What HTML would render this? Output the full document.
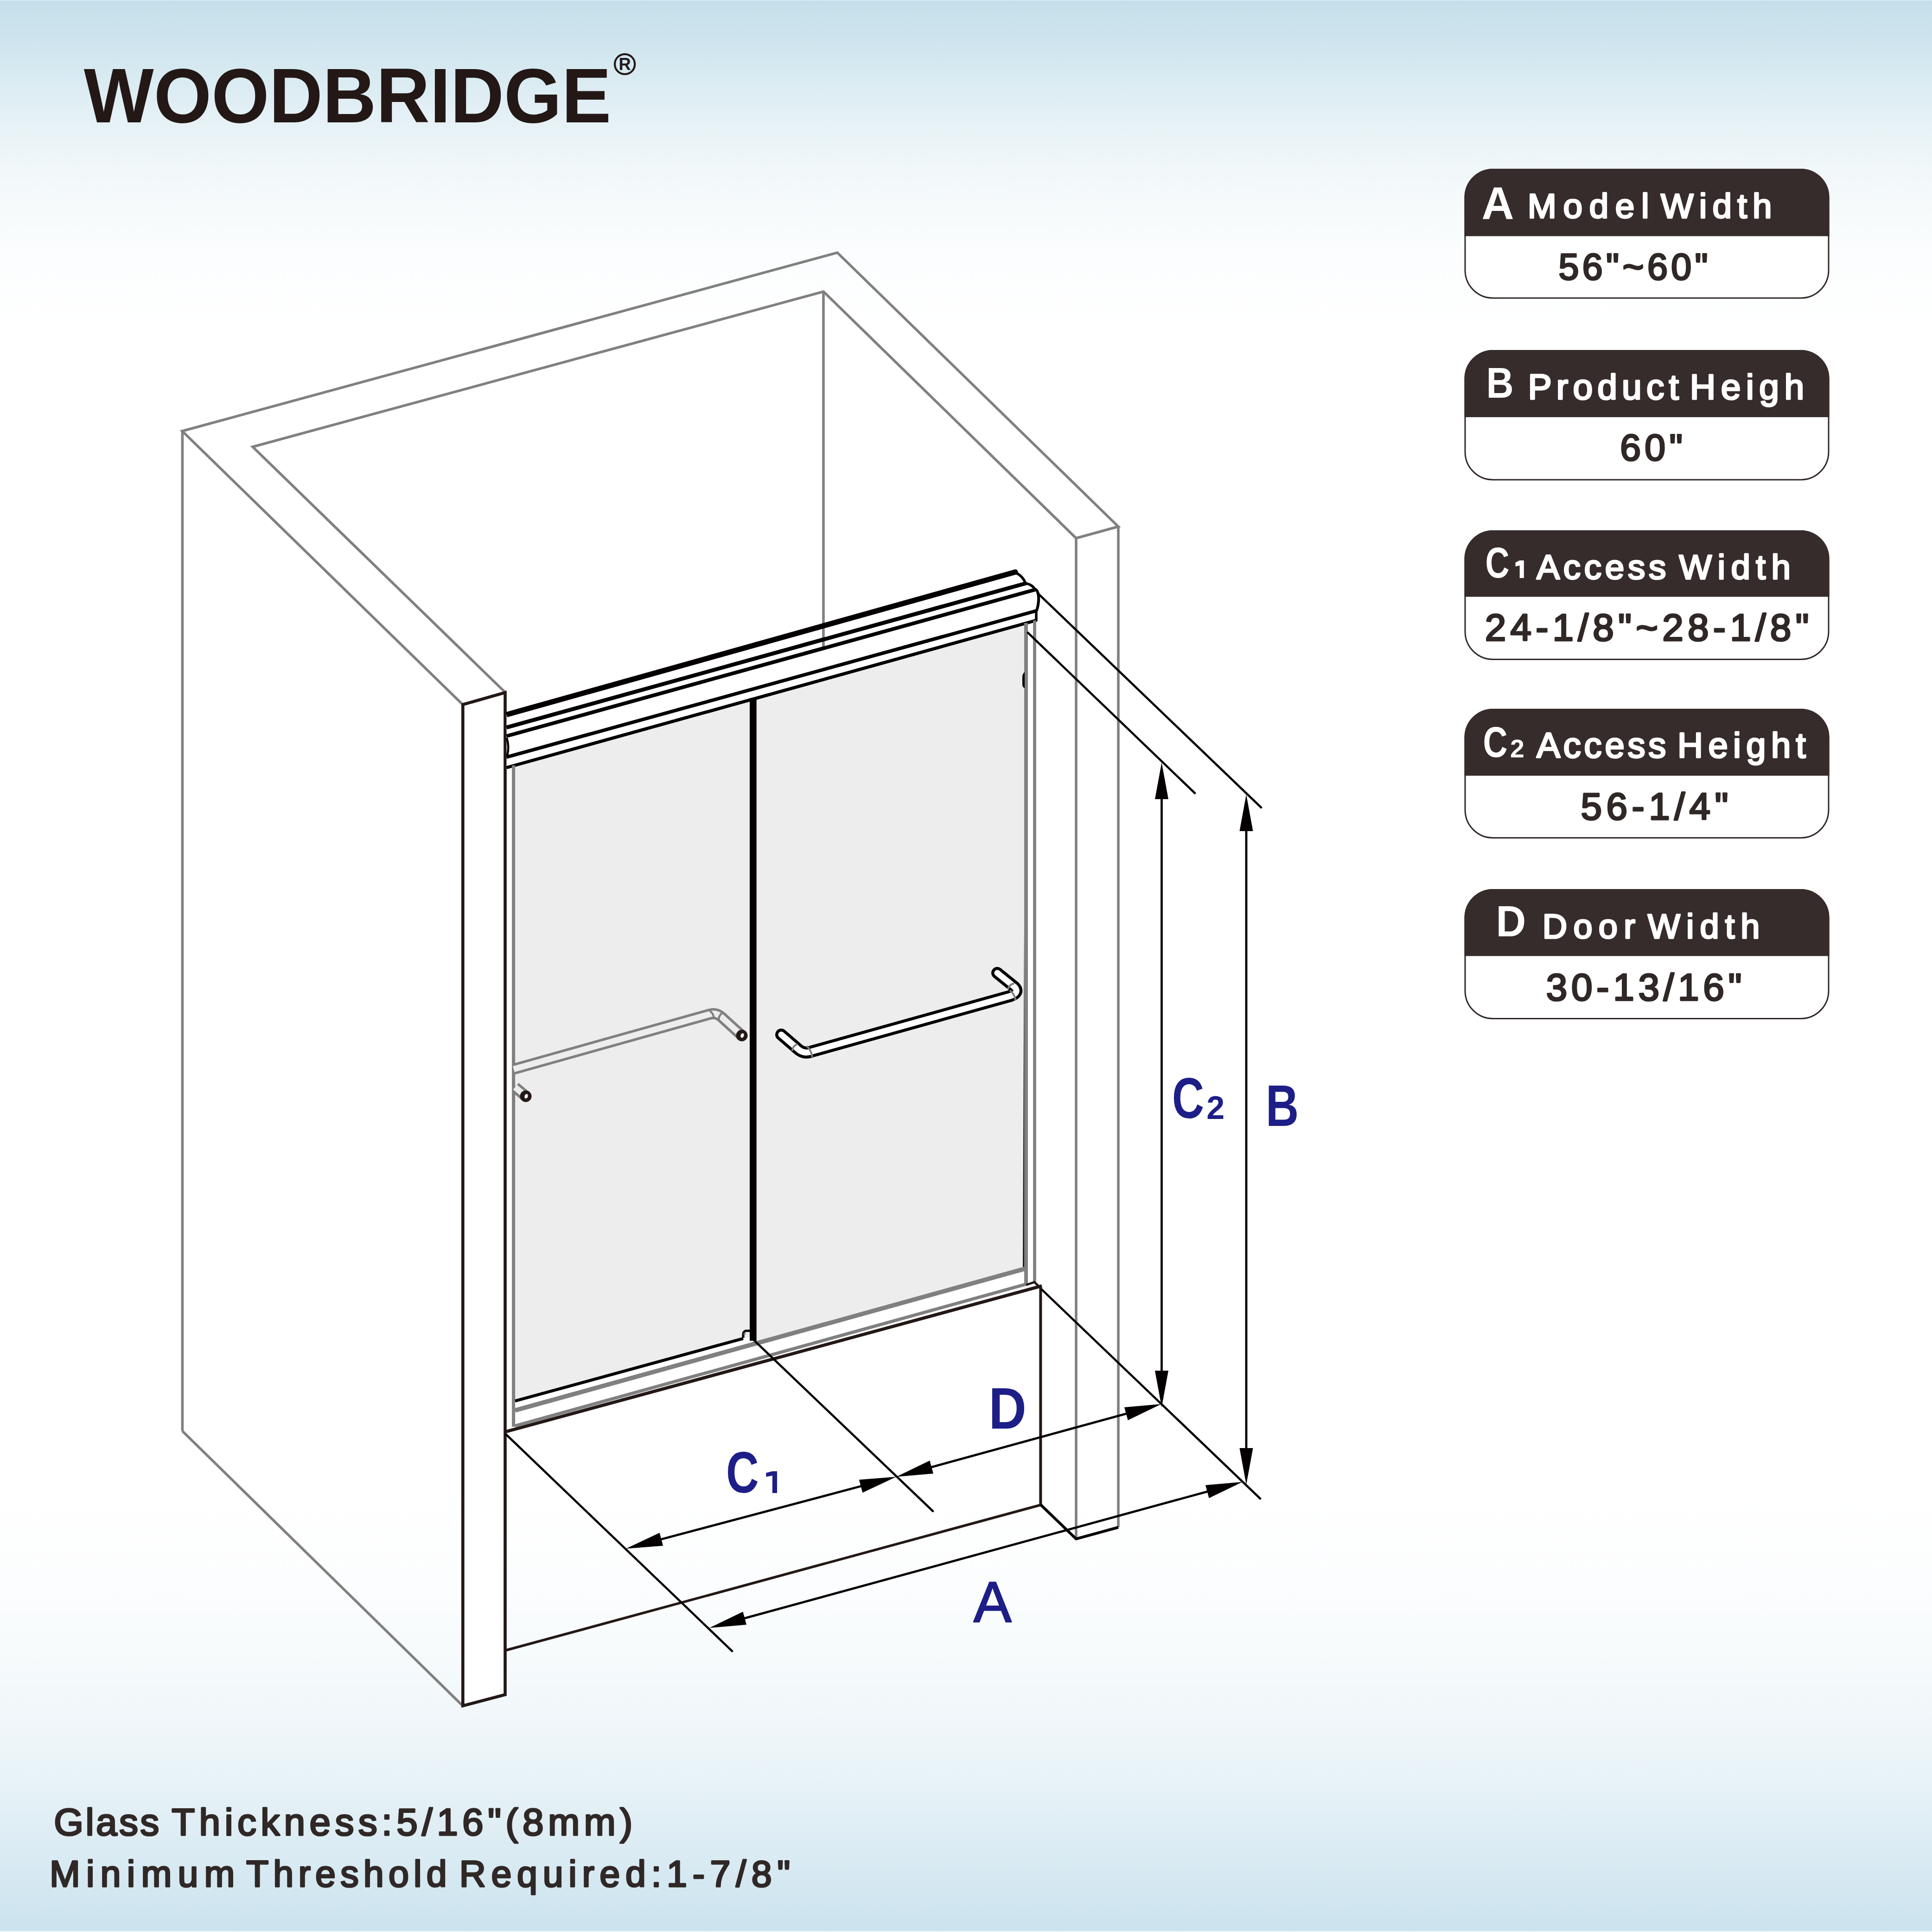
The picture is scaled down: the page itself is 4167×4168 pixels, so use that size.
<!DOCTYPE html>
<html><head><meta charset="utf-8">
<style>
html,body{margin:0;padding:0;width:4167px;height:4168px;overflow:hidden;}
body{background:linear-gradient(to bottom,#e2f0f5 0px,#c4dfea 2px,#d1e6ef 110px,#e3f0f5 240px,#f2f8fa 380px,#fbfdfe 540px,#ffffff 720px,#ffffff 3200px,#fcfdfe 3400px,#f7fbfc 3550px,#f1f7fa 3700px,#e7f2f7 3850px,#daebf3 4000px,#cbe3ee 4165px,#ffffff 4168px);}
svg{position:absolute;left:0;top:0;}
text{font-family:"Liberation Sans",sans-serif;font-kerning:none;}
</style></head>
<body>
<svg width="4167" height="4168" viewBox="0 0 4167 4168">
<g id="logo">
<text transform="translate(180.8 264.4) scale(0.9553 1)" font-size="167.44" font-weight="bold" fill="#231815">WOODBRIDGE</text>
<circle cx="1347.6" cy="138.4" r="21.6" fill="none" stroke="#231815" stroke-width="4.2"/>
<text transform="translate(1334.6 151.0) scale(0.9776 1)" font-size="37.06" font-weight="bold" fill="#231815">R</text>
</g>
<g id="cards">
<rect x="3160" y="365.5" width="784" height="277.5" rx="60" ry="60" fill="#ffffff" stroke="#302826" stroke-width="3"/>
<path d="M3158.5 509.5 V425.5 A61.5 61.5 0 0 1 3220.0 364.0 H3884.0 A61.5 61.5 0 0 1 3945.5 425.5 V509.5 Z" fill="#352c2b"/>
<text transform="translate(3195.6 472.0) scale(0.9802 1)" font-size="98.84" font-weight="bold" fill="#ffffff">A</text>
<text x="3294.7" y="470.2" font-size="74.71" font-weight="normal" letter-spacing="14.59" fill="#ffffff" stroke="#ffffff" stroke-width="3.60" stroke-linejoin="round">Model</text>
<text x="3582.1" y="470.2" font-size="74.71" font-weight="normal" letter-spacing="12.13" fill="#ffffff" stroke="#ffffff" stroke-width="3.60" stroke-linejoin="round">Width</text>
<text x="3361.6" y="603.2" font-size="79.07" font-weight="normal" letter-spacing="7.28" fill="#302826" stroke="#302826" stroke-width="3.60" stroke-linejoin="round">56&quot;~60&quot;</text>
<rect x="3160" y="756.5" width="784" height="278.5" rx="60" ry="60" fill="#ffffff" stroke="#302826" stroke-width="3"/>
<path d="M3158.5 900.0 V816.5 A61.5 61.5 0 0 1 3220.0 755.0 H3884.0 A61.5 61.5 0 0 1 3945.5 816.5 V900.0 Z" fill="#352c2b"/>
<text transform="translate(3205.5 857.5) scale(0.8883 1)" font-size="92.30" font-weight="bold" fill="#ffffff">B</text>
<text x="3295.5" y="861.2" font-size="76.89" font-weight="normal" letter-spacing="10.05" fill="#ffffff" stroke="#ffffff" stroke-width="3.60" stroke-linejoin="round">Product</text>
<text x="3644.8" y="861.2" font-size="76.89" font-weight="normal" letter-spacing="11.38" fill="#ffffff" stroke="#ffffff" stroke-width="3.60" stroke-linejoin="round">Heigh</text>
<text x="3494.2" y="993.2" font-size="80.52" font-weight="normal" letter-spacing="8.38" fill="#302826" stroke="#302826" stroke-width="3.60" stroke-linejoin="round">60&quot;</text>
<rect x="3160" y="1145.5" width="784" height="277.0" rx="60" ry="60" fill="#ffffff" stroke="#302826" stroke-width="3"/>
<path d="M3158.5 1287.5 V1205.5 A61.5 61.5 0 0 1 3220.0 1144.0 H3884.0 A61.5 61.5 0 0 1 3945.5 1205.5 V1287.5 Z" fill="#352c2b"/>
<text transform="translate(3203.5 1245.5) scale(0.7822 1)" font-size="92.30" font-weight="bold" fill="#ffffff">C</text>
<polygon points="3268.6,1213.5 3277.7,1209 3286.8,1209 3286.8,1247 3277.7,1247 3277.7,1220 3268.6,1222" fill="#ffffff"/>
<text x="3314.2" y="1249.2" font-size="74.71" font-weight="normal" letter-spacing="7.69" fill="#ffffff" stroke="#ffffff" stroke-width="3.60" stroke-linejoin="round">Access</text>
<text x="3621.5" y="1249.2" font-size="74.71" font-weight="normal" letter-spacing="12.40" fill="#ffffff" stroke="#ffffff" stroke-width="3.60" stroke-linejoin="round">Width</text>
<text x="3202.7" y="1382.2" font-size="81.98" font-weight="normal" letter-spacing="9.15" fill="#302826" stroke="#302826" stroke-width="3.60" stroke-linejoin="round">24-1/8&quot;~28-1/8&quot;</text>
<rect x="3160" y="1530.5" width="784" height="277.0" rx="60" ry="60" fill="#ffffff" stroke="#302826" stroke-width="3"/>
<path d="M3158.5 1673.5 V1590.5 A61.5 61.5 0 0 1 3220.0 1529.0 H3884.0 A61.5 61.5 0 0 1 3945.5 1590.5 V1673.5 Z" fill="#352c2b"/>
<text transform="translate(3198.5 1632.5) scale(0.7909 1)" font-size="93.02" font-weight="bold" fill="#ffffff">C</text>
<text x="3257.0" y="1633.6" font-size="55.38" font-weight="bold" fill="#ffffff">2</text>
<text x="3314.2" y="1634.2" font-size="76.16" font-weight="normal" letter-spacing="6.76" fill="#ffffff" stroke="#ffffff" stroke-width="3.60" stroke-linejoin="round">Access</text>
<text x="3618.1" y="1634.2" font-size="76.16" font-weight="normal" letter-spacing="11.31" fill="#ffffff" stroke="#ffffff" stroke-width="3.60" stroke-linejoin="round">Height</text>
<text x="3409.5" y="1768.2" font-size="81.98" font-weight="normal" letter-spacing="9.44" fill="#302826" stroke="#302826" stroke-width="3.60" stroke-linejoin="round">56-1/4&quot;</text>
<rect x="3160" y="1919.5" width="784" height="278.0" rx="60" ry="60" fill="#ffffff" stroke="#302826" stroke-width="3"/>
<path d="M3158.5 2062.5 V1979.5 A61.5 61.5 0 0 1 3220.0 1918.0 H3884.0 A61.5 61.5 0 0 1 3945.5 1979.5 V2062.5 Z" fill="#352c2b"/>
<text transform="translate(3226.5 2020.0) scale(0.9492 1)" font-size="94.48" font-weight="bold" fill="#ffffff">D</text>
<text x="3326.7" y="2024.2" font-size="73.98" font-weight="normal" letter-spacing="13.28" fill="#ffffff" stroke="#ffffff" stroke-width="3.60" stroke-linejoin="round">Door</text>
<text x="3554.0" y="2024.2" font-size="73.98" font-weight="normal" letter-spacing="13.10" fill="#ffffff" stroke="#ffffff" stroke-width="3.60" stroke-linejoin="round">Width</text>
<text x="3334.7" y="2158.2" font-size="81.98" font-weight="normal" letter-spacing="8.66" fill="#302826" stroke="#302826" stroke-width="3.60" stroke-linejoin="round">30-13/16&quot;</text>
</g>
<g id="bottom">
<text x="116.3" y="3959.2" font-size="81.98" font-weight="normal" letter-spacing="4.38" fill="#302826" stroke="#302826" stroke-width="3.60" stroke-linejoin="round">Glass</text>
<text x="370.2" y="3959.2" font-size="81.98" font-weight="normal" letter-spacing="9.32" fill="#302826" stroke="#302826" stroke-width="3.60" stroke-linejoin="round">Thickness:5/16&quot;(8mm)</text>
<text x="106.9" y="4070.2" font-size="79.07" font-weight="normal" letter-spacing="13.14" fill="#302826" stroke="#302826" stroke-width="3.60" stroke-linejoin="round">Minimum</text>
<text x="530.9" y="4070.2" font-size="79.07" font-weight="normal" letter-spacing="10.17" fill="#302826" stroke="#302826" stroke-width="3.60" stroke-linejoin="round">Threshold</text>
<text x="990.8" y="4070.2" font-size="79.07" font-weight="normal" letter-spacing="11.61" fill="#302826" stroke="#302826" stroke-width="3.60" stroke-linejoin="round">Required:1-7/8&quot;</text>
</g>
<g id="diagram">
<polyline points="998.0,1520.0 393.0,930.0 1806.0,545.0 2412.0,1136.0 2321.0,1161.0 1776.0,629.0 545.0,964.0 1090.0,1494.0" fill="none" stroke="#808080" stroke-width="5.6" stroke-linejoin="miter"/>
<line x1="393.4" y1="930.0" x2="393.4" y2="3087.0" stroke="#808080" stroke-width="5.6" stroke-linecap="butt"/>
<line x1="393.0" y1="3087.0" x2="998.0" y2="3680.0" stroke="#808080" stroke-width="5.6" stroke-linecap="butt"/>
<line x1="2321.0" y1="1161.0" x2="2321.0" y2="3320.0" stroke="#808080" stroke-width="5.6" stroke-linecap="butt"/>
<line x1="2412.0" y1="1136.0" x2="2412.0" y2="3295.0" stroke="#808080" stroke-width="5.6" stroke-linecap="butt"/>
<polygon points="998.3,1520.0 1089.5,1494.0 1089.5,3656.0 998.3,3680.0" fill="#ffffff" stroke="#231815" stroke-width="6.6" stroke-linejoin="miter"/>
<line x1="1090.0" y1="3088.9" x2="2247.0" y2="2774.2" stroke="#231815" stroke-width="6.9" stroke-linecap="butt"/>
<line x1="2244.4" y1="2776.0" x2="2244.4" y2="3249.0" stroke="#231815" stroke-width="6.0" stroke-linecap="butt"/>
<line x1="1092.0" y1="3560.0" x2="2247.0" y2="3246.0" stroke="#231815" stroke-width="5.5" stroke-linecap="butt"/>
<polyline points="2244.4,3246.0 2321.0,3320.0 2412.0,3295.0" fill="none" stroke="#040000" stroke-width="6.0" stroke-linejoin="miter"/>
<polygon points="1108.0,1651.7 1617.0,1510.0 1617.0,2883.8 1108.0,3023.2" fill="#ededed" stroke="none" stroke-width="0.0" stroke-linejoin="miter"/>
<polygon points="1631.0,1506.1 2209.0,1345.2 2209.0,2737.5 1631.0,2898.2" fill="#ededed" stroke="none" stroke-width="0.0" stroke-linejoin="miter"/>
<polygon points="1092.6,1541.7 2190.0,1234.0 2236.0,1273.0 2236.0,1339.0 1092.6,1656.0" fill="#ffffff" stroke="none" stroke-width="0.0" stroke-linejoin="miter"/>
<line x1="1776.0" y1="629.0" x2="1776.0" y2="1396.0" stroke="#808080" stroke-width="5.6" stroke-linecap="butt"/>
<line x1="1092.6" y1="1541.7" x2="2190.0" y2="1234.0" stroke="#040000" stroke-width="11.5" stroke-linecap="butt"/>
<circle cx="2190" cy="1234" r="5.75" fill="#040000"/>
<line x1="1092.6" y1="1569.4" x2="2214.0" y2="1258.0" stroke="#040000" stroke-width="8.5" stroke-linecap="butt"/>
<line x1="1092.6" y1="1588.0" x2="2233.0" y2="1272.0" stroke="#040000" stroke-width="8.0" stroke-linecap="butt"/>
<line x1="1092.6" y1="1633.3" x2="2234.0" y2="1318.0" stroke="#040000" stroke-width="7.5" stroke-linecap="butt"/>
<line x1="1092.6" y1="1656.0" x2="2236.0" y2="1338.0" stroke="#040000" stroke-width="7.0" stroke-linecap="butt"/>
<path d="M2189 1235.5 Q2204 1240 2212 1258" fill="none" stroke="#040000" stroke-width="5.5" stroke-linecap="butt" stroke-linejoin="miter"/>
<path d="M2213 1258.5 Q2226 1261 2233 1272" fill="none" stroke="#040000" stroke-width="5.5" stroke-linecap="butt" stroke-linejoin="miter"/>
<path d="M2233 1271 C2242 1276 2242 1300 2235.5 1318" fill="none" stroke="#040000" stroke-width="6.0" stroke-linecap="butt" stroke-linejoin="miter"/>
<line x1="2235.0" y1="1317.0" x2="2235.0" y2="1340.0" stroke="#040000" stroke-width="5.5" stroke-linecap="butt"/>
<path d="M1093 1592 Q1099 1611 1094 1630" fill="none" stroke="#040000" stroke-width="4.5" stroke-linecap="butt" stroke-linejoin="miter"/>
<line x1="1107.6" y1="1651.0" x2="1107.6" y2="3078.0" stroke="#808080" stroke-width="7.0" stroke-linecap="butt"/>
<line x1="1111.0" y1="3022.4" x2="1603.0" y2="2887.6" stroke="#040000" stroke-width="6.5" stroke-linecap="butt"/>
<line x1="1111.0" y1="3042.7" x2="2216.0" y2="2735.6" stroke="#808080" stroke-width="9.5" stroke-linecap="butt"/>
<line x1="1111.0" y1="3076.0" x2="2216.0" y2="2769.7" stroke="#808080" stroke-width="7.0" stroke-linecap="butt"/>
<polygon points="2209.0,2000.0 2209.0,2733.0 2206.0,2733.0" fill="#231815" stroke="none" stroke-width="0.0" stroke-linejoin="miter"/>
<line x1="2213.0" y1="1344.0" x2="2213.0" y2="2772.0" stroke="#808080" stroke-width="8.0" stroke-linecap="butt"/>
<line x1="2231.5" y1="1338.5" x2="2231.5" y2="2766.0" stroke="#808080" stroke-width="6.7" stroke-linecap="butt"/>
<polyline points="2213.0,2772.0 2231.0,2766.0 2246.0,2780.0" fill="none" stroke="#231815" stroke-width="5.0" stroke-linejoin="miter"/>
<rect x="1617" y="1506" width="14.7" height="1386.5" fill="#040000"/>
<path d="M1617 2871 L1608 2871 Q1603 2873 1603 2879 L1603 2886" fill="none" stroke="#040000" stroke-width="5.0" stroke-linecap="butt" stroke-linejoin="miter"/>
<circle cx="1606" cy="2877.5" r="2.5" fill="#808080"/>
<path d="M2209 1452 Q2206 1455 2206 1462 L2206 1476 Q2206 1481 2209 1483 Z" fill="#040000" stroke="#040000" stroke-width="2.0" stroke-linecap="butt" stroke-linejoin="miter"/>
<path d="M1108 2306.5 L1531.6 2187.7 Q1545 2184 1556 2194 L1600 2234" fill="none" stroke="#808080" stroke-width="24.0" stroke-linecap="butt" stroke-linejoin="round"/>
<path d="M1108 2306.5 L1531.6 2187.7 Q1545 2184 1556 2194 L1600 2234" fill="none" stroke="#ededed" stroke-width="13.0" stroke-linecap="butt" stroke-linejoin="round"/>
<path d="M1531 2181 Q1541 2188 1539 2199" fill="none" stroke="#808080" stroke-width="4.5" stroke-linecap="butt" stroke-linejoin="miter"/>
<path d="M1557 2186 Q1548 2193 1551 2203" fill="none" stroke="#808080" stroke-width="4.5" stroke-linecap="butt" stroke-linejoin="miter"/>
<path d="M1111 2345.5 L1134 2365" fill="none" stroke="#808080" stroke-width="24.0" stroke-linecap="butt" stroke-linejoin="miter"/>
<path d="M1111 2345.5 L1134 2365" fill="none" stroke="#ededed" stroke-width="13.0" stroke-linecap="butt" stroke-linejoin="miter"/>
<circle cx="1600.0" cy="2234.0" r="12.5" fill="#231815"/>
<ellipse cx="1601.0" cy="2234.0" rx="3.5" ry="5" fill="#ffffff" transform="rotate(20 1601.0 2234.0)"/>
<circle cx="1134.0" cy="2365.0" r="12.5" fill="#231815"/>
<ellipse cx="1135.0" cy="2365.0" rx="3.5" ry="5" fill="#ffffff" transform="rotate(20 1135.0 2365.0)"/>
<path d="M1685 2232 L1722 2264 Q1735 2275 1752 2268 L2178 2149 Q2200 2142 2188 2129 L2151 2099" fill="none" stroke="#040000" stroke-width="26.0" stroke-linecap="round" stroke-linejoin="round"/>
<path d="M1685 2232 L1722 2264 Q1735 2275 1752 2268 L2178 2149 Q2200 2142 2188 2129 L2151 2099" fill="none" stroke="#ffffff" stroke-width="13.0" stroke-linecap="round" stroke-linejoin="round"/>
<path d="M1708.5 2267 Q1710 2256 1720.5 2252" fill="none" stroke="#808080" stroke-width="4.0" stroke-linecap="butt" stroke-linejoin="miter"/>
<path d="M1740 2256.6 Q1750 2266 1752 2280.7" fill="none" stroke="#808080" stroke-width="4.0" stroke-linecap="butt" stroke-linejoin="miter"/>
<path d="M2174 2133.5 Q2178 2123 2187.4 2121.5" fill="none" stroke="#808080" stroke-width="4.0" stroke-linecap="butt" stroke-linejoin="miter"/>
<path d="M2178 2136.5 Q2189 2145 2190 2157.6" fill="none" stroke="#808080" stroke-width="4.0" stroke-linecap="butt" stroke-linejoin="miter"/>
<line x1="2238.0" y1="1279.5" x2="2720.0" y2="1742.0" stroke="#040000" stroke-width="4.6" stroke-linecap="round"/>
<line x1="2217.0" y1="1365.0" x2="2577.0" y2="1711.0" stroke="#040000" stroke-width="4.6" stroke-linecap="round"/>
<line x1="2247.0" y1="2782.0" x2="2718.0" y2="3233.0" stroke="#040000" stroke-width="4.6" stroke-linecap="round"/>
<line x1="1092.0" y1="3095.0" x2="1579.0" y2="3562.0" stroke="#040000" stroke-width="4.6" stroke-linecap="round"/>
<line x1="1627.4" y1="2892.5" x2="2012.0" y2="3260.0" stroke="#040000" stroke-width="4.6" stroke-linecap="round"/>
<line x1="2505.5" y1="1685.0" x2="2505.5" y2="2996.0" stroke="#040000" stroke-width="4.8" stroke-linecap="butt"/>
<polygon points="2505.5,1645.0 2520.0,1724.0 2491.0,1724.0" fill="#040000" stroke="none" stroke-width="0.0" stroke-linejoin="miter"/>
<polygon points="2505.5,3036.0 2491.0,2957.0 2520.0,2957.0" fill="#040000" stroke="none" stroke-width="0.0" stroke-linejoin="miter"/>
<line x1="2688.0" y1="1754.0" x2="2688.0" y2="3163.0" stroke="#040000" stroke-width="4.8" stroke-linecap="butt"/>
<polygon points="2688.0,1714.0 2702.5,1793.0 2673.5,1793.0" fill="#040000" stroke="none" stroke-width="0.0" stroke-linejoin="miter"/>
<polygon points="2688.0,3203.0 2673.5,3124.0 2702.5,3124.0" fill="#040000" stroke="none" stroke-width="0.0" stroke-linejoin="miter"/>
<line x1="1388.7" y1="3330.7" x2="1894.3" y2="3196.3" stroke="#040000" stroke-width="4.8" stroke-linecap="butt"/>
<polygon points="1350.0,3341.0 1422.6,3306.7 1430.1,3334.7" fill="#040000" stroke="none" stroke-width="0.0" stroke-linejoin="miter"/>
<polygon points="1933.0,3186.0 1860.4,3220.3 1852.9,3192.3" fill="#040000" stroke="none" stroke-width="0.0" stroke-linejoin="miter"/>
<line x1="1971.6" y1="3175.4" x2="2466.4" y2="3039.6" stroke="#040000" stroke-width="4.8" stroke-linecap="butt"/>
<polygon points="1933.0,3186.0 2005.3,3151.1 2013.0,3179.1" fill="#040000" stroke="none" stroke-width="0.0" stroke-linejoin="miter"/>
<polygon points="2505.0,3029.0 2432.7,3063.9 2425.0,3035.9" fill="#040000" stroke="none" stroke-width="0.0" stroke-linejoin="miter"/>
<line x1="1568.6" y1="3501.4" x2="2641.4" y2="3207.6" stroke="#040000" stroke-width="4.8" stroke-linecap="butt"/>
<polygon points="1530.0,3512.0 1602.4,3477.1 1610.0,3505.1" fill="#040000" stroke="none" stroke-width="0.0" stroke-linejoin="miter"/>
<polygon points="2680.0,3197.0 2607.6,3231.9 2600.0,3203.9" fill="#040000" stroke="none" stroke-width="0.0" stroke-linejoin="miter"/>
<text transform="translate(2527.9 2412.0) scale(0.7737 1)" font-size="123.55" font-weight="bold" fill="#1d1e87">C</text>
<text x="2602.3" y="2414.2" font-size="70.06" font-weight="bold" fill="#1d1e87">2</text>
<text transform="translate(2730.1 2429.0) scale(0.7793 1)" font-size="126.46" font-weight="bold" fill="#1d1e87">B</text>
<text transform="translate(2132.5 3082.0) scale(0.8897 1)" font-size="126.46" font-weight="bold" fill="#1d1e87">D</text>
<text transform="translate(1566.0 3220.0) scale(0.7741 1)" font-size="126.46" font-weight="bold" fill="#1d1e87">C</text>
<polygon points="1652.3,3177.5 1665.9,3174.0 1676.0,3174.0 1676.0,3221.0 1665.9,3221.0 1665.9,3183.5 1652.3,3186.0" fill="#1d1e87" stroke="none" stroke-width="0.0" stroke-linejoin="miter"/>
<text transform="translate(2099.7 3498.8) scale(0.9878 1)" font-size="124.28" font-weight="normal" fill="#1d1e87" stroke="#1d1e87" stroke-width="2.50" stroke-linejoin="round">A</text>
</g>
</svg>
</body></html>
